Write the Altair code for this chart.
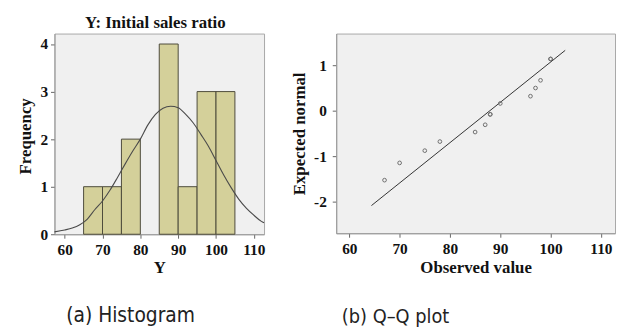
import altair as alt
import pandas as pd

# ---- data ----
bin_start = [65, 70, 75, 80, 85, 90, 95, 100]
bin_count = [1, 1, 2, 0, 4, 1, 3, 3]
bin_width = 5

curve_x = [57.3, 60, 62, 64, 66, 68, 70, 72, 74, 76, 78, 80, 82, 84, 86, 88,
           90, 92, 94, 96, 98, 100, 102, 104, 106, 108, 110, 112, 112.7]
curve_y = [0.05, 0.09, 0.13, 0.20, 0.32, 0.52, 0.70, 0.93, 1.20, 1.48, 1.75, 2.00,
           2.30, 2.52, 2.65, 2.69, 2.66, 2.52, 2.34, 2.10, 1.85, 1.55, 1.25, 0.98,
           0.74, 0.55, 0.40, 0.27, 0.24]

qq_obs = [67, 70, 75, 78, 85, 87, 88, 88, 90, 96, 97, 98, 100, 100]
qq_exp = [-1.53, -1.15, -0.88, -0.68, -0.47, -0.31, -0.08, -0.08, 0.16, 0.32,
          0.50, 0.67, 1.14, 1.14]

line_obs = [64.4, 102.9]
line_exp = [-2.09, 1.33]

x_ticks = [60, 70, 80, 90, 100, 110]
hist_y_ticks = [0, 1, 2, 3, 4]
qq_y_ticks = [-2, -1, 0, 1]

hist_title = "Y: Initial sales ratio"
caption_a = "(a) Histogram"
caption_b = "(b) Q\u2013Q plot"

# ---- tables ----
bars = pd.DataFrame({"start": bin_start, "count": bin_count})
bars["end"] = bars["start"] + bin_width
bars = bars[bars["count"] > 0]
curve = pd.DataFrame({"x": curve_x, "y": curve_y})
pts = pd.DataFrame({"obs": qq_obs, "exp": qq_exp})
fit = pd.DataFrame({"obs": line_obs, "exp": line_exp})

SERIF = "Liberation Serif"
NARROW = "Liberation Sans Narrow, DejaVu Sans Condensed, Roboto, sans-serif"

def axis_common(**kw):
    base = dict(labelFont=SERIF, labelFontWeight="bold", labelFontSize=15.5,
                labelColor="#111", titleFont=SERIF, titleFontWeight="bold",
                titleFontSize=17, titleColor="#111", tickColor="#666",
                tickSize=4, domainColor="#999", grid=False)
    base.update(kw)
    return alt.Axis(**base)

HW, HH = 212, 203
QW, QH = 282, 202

hx = alt.X("start:Q", scale=alt.Scale(domain=[57.3, 112.7], nice=False, zero=False),
           axis=axis_common(values=x_ticks, title="Y", labelPadding=4,
                            titleY=39, titleBaseline="alphabetic"))
hy = alt.Y("count:Q", scale=alt.Scale(domain=[0, 4.22], nice=False),
           axis=axis_common(values=hist_y_ticks, title="Frequency", labelPadding=3,
                            format="d",
                            titleX=-29, titleY=HH / 2 + 2, titleBaseline="middle"))

bar_layer = alt.Chart(bars).mark_rect(
    fill="#d4d09a", stroke="#4d4b3c", strokeWidth=1, opacity=1
).encode(x=hx, x2="end:Q", y=hy, y2=alt.datum(0))

curve_layer = alt.Chart(curve).mark_line(
    color="#4a4a4a", strokeWidth=1.1, interpolate="monotone"
).encode(x="x:Q", y="y:Q")

cap_a = alt.Chart(pd.DataFrame({"t": [caption_a]})).mark_text(
    font=NARROW, fontSize=21, color="#222", baseline="alphabetic", align="center"
).encode(text="t:N", x=alt.value(77), y=alt.value(292))

title_a = alt.Chart(pd.DataFrame({"t": [hist_title]})).mark_text(
    font=SERIF, fontWeight="bold", fontSize=17, color="#111",
    baseline="alphabetic", align="center"
).encode(text="t:N", x=alt.value(HW / 2 - 4), y=alt.value(-6))

hist = alt.layer(bar_layer, curve_layer, cap_a, title_a).properties(width=HW, height=HH)

qx = alt.X("obs:Q", scale=alt.Scale(domain=[57.4, 112.8], nice=False, zero=False),
           axis=axis_common(values=x_ticks, title="Observed value", labelPadding=4,
                            titleY=40, titleBaseline="alphabetic"))
qy = alt.Y("exp:Q", scale=alt.Scale(domain=[-2.7, 1.7], nice=False),
           axis=axis_common(values=qq_y_ticks, title="Expected normal", labelPadding=6,
                            titleX=-37, titleY=QH / 2, titleBaseline="middle",
                            labelExpr="datum.value < 0 ? '-' + abs(datum.value) : '' + datum.value"))

pt_layer = alt.Chart(pts).mark_point(
    shape="circle", filled=False, size=14, stroke="#6e6e6e", strokeWidth=1, opacity=1
).encode(x=qx, y=qy)

fit_layer = alt.Chart(fit).mark_line(color="#333", strokeWidth=1).encode(x="obs:Q", y="exp:Q")

cap_b = alt.Chart(pd.DataFrame({"t": [caption_b]})).mark_text(
    font=NARROW, fontSize=20, color="#222", baseline="alphabetic", align="center"
).encode(text="t:N", x=alt.value(60), y=alt.value(293))

qq = alt.layer(fit_layer, pt_layer, cap_b).properties(width=QW, height=QH)

chart = alt.hconcat(hist, qq, spacing=23).resolve_scale(x="independent", y="independent").properties(
    padding={"left": 8, "top": 3, "right": 0, "bottom": 0},
    background="white",
).configure_view(fill="#f0f0f0", stroke="#a8a8a8", strokeWidth=1).configure_axis(
    labelFont=SERIF, labelFontWeight="bold", titleFont=SERIF, titleFontWeight="bold"
)

chart.save("out.html", embed_options={"renderer": "svg", "actions": False})
